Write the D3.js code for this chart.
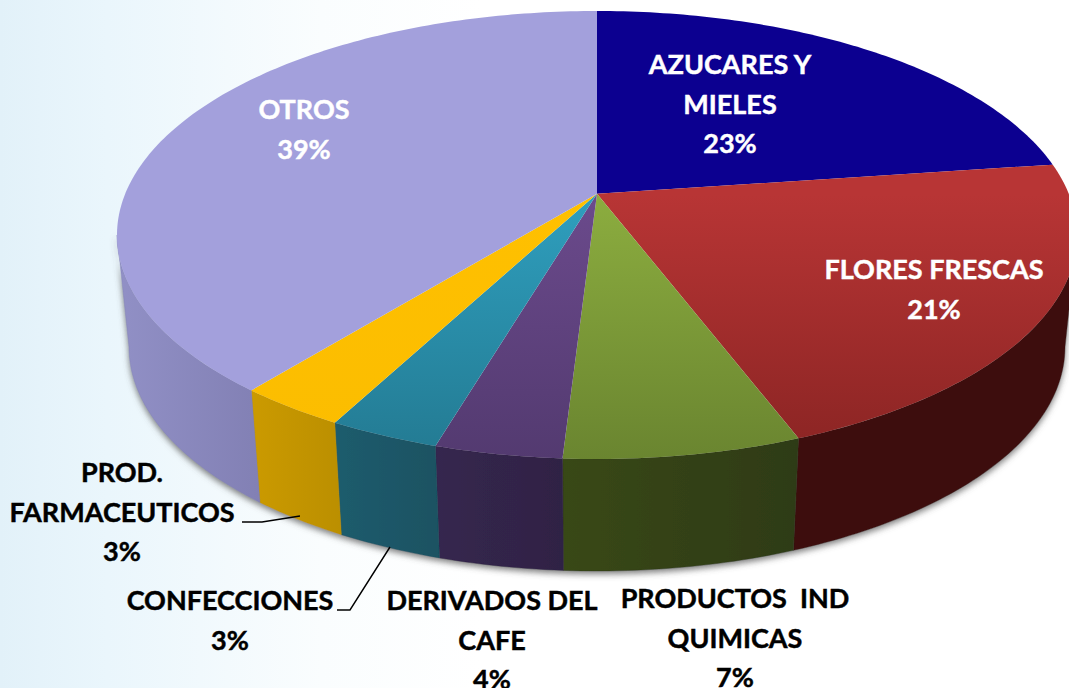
<!DOCTYPE html>
<html>
<head>
<meta charset="utf-8">
<script src="https://cdn.jsdelivr.net/npm/d3@7"></script>
<style>
  body { margin: 0; background: #fff; overflow: hidden; }
  svg { display: block; }
  text { font-family: Lato, "Open Sans", sans-serif; font-weight: 700; white-space: pre; text-anchor: middle; stroke-width: 0.45px; }
</style>
</head>
<body>
<script>
// data (the labels round these to whole percents)
const categories = ["AZUCARES Y MIELES", "FLORES FRESCAS", "PRODUCTOS  IND QUIMICAS", "DERIVADOS DEL CAFE", "CONFECCIONES", "PROD. FARMACEUTICOS", "OTROS"];
const shares = [22.8, 21.45, 6.7, 3.6, 3.15, 3.1, 39.2];

// colours: top face (upper, lower) and side wall (left, right)
const topColors = [["#0c0090", "#0c0090"], ["#b83535", "#8a2423"], ["#8cad3f", "#6a8530"], ["#6b4a8c", "#533a70"], ["#2f9fbe", "#237a92"], ["#ffc000", "#fbbd00"], ["#a3a0dc", "#a3a0dc"]];
const wallColors = [["#000", "#000"], ["#3c0f0e", "#3c100f"], ["#394817", "#2e3b13"], ["#36264f", "#2f2344"], ["#1f5c6d", "#1a5262"], ["#cb9a00", "#bb8f00"], ["#9190c6", "#8280b4"]];

// label lines, split by hand like the original
const labelLines = [["AZUCARES Y", "MIELES"], ["FLORES FRESCAS"], ["PRODUCTOS  IND", "QUIMICAS"], ["DERIVADOS DEL", "CAFE"], ["CONFECCIONES"], ["PROD.", "FARMACEUTICOS"], ["OTROS"]];
const labelAt = [[730, 74], [934, 279], [735, 608], [492, 610], [230, 610], [122, 482], [304, 119]];
const labelFill = ["#fff", "#fff", "#000", "#000", "#000", "#000", "#fff"];

var w = 1069, h = 688;
var lineGap = 39.5;

// tilted disc: top ellipse and a slightly narrower one for the bottom edge
var cx = 597;
var topRim = { rx: 480, ry: 224, cy: 235 };
var lowRim = { rx: 468, ry: 224, cy: 347 };
// perspective squeeze: the far half of the pie looks smaller than the near half
var squeeze = 0.83;

function toRim(a) { return 2 * Math.atan2(squeeze * Math.sin(a / 2), Math.cos(a / 2)); }
function fromRim(p) { return 2 * Math.atan2(Math.sin(p / 2), squeeze * Math.cos(p / 2)); }

function rimPoint(rim, a) {
  var p = toRim(a);
  return [cx + rim.rx * Math.sin(p), rim.cy - rim.ry * Math.cos(p)];
}

function arcPoints(rim, a0, a1) {
  var n = Math.max(2, Math.ceil((a1 - a0) * 60));
  return d3.range(n + 1).map(function(i) { return rimPoint(rim, a0 + (a1 - a0) * i / n); });
}

var line = d3.line();
var pie = d3.pie().sort(null).value(function(d) { return d; });
var slices = pie(shares);
// centre of the pie as seen in perspective, that's where all slices meet
var apex = [cx, topRim.cy - topRim.ry * Math.cos(toRim(Math.PI / 2))];

var svg = d3.select("body").append("svg").attr("width", w).attr("height", h);
var defs = svg.append("defs");

// pale blue background fading to white
var bg = defs.append("linearGradient").attr("id", "bg");
bg.append("stop").attr("offset", "0").attr("stop-color", "#e2f1f9");
bg.append("stop").attr("offset", "0.1").attr("stop-color", "#eaf6fc");
bg.append("stop").attr("offset", "0.3").attr("stop-color", "#fafdfe");
bg.append("stop").attr("offset", "0.45").attr("stop-color", "#ffffff");
svg.append("rect").attr("width", w).attr("height", h).attr("fill", "url(#bg)");

var shadow = defs.append("filter").attr("id", "shadow").attr("x", "-10%").attr("y", "-10%").attr("width", "120%").attr("height", "120%");
shadow.append("feDropShadow").attr("dx", 0).attr("dy", 3).attr("stdDeviation", 3).attr("flood-color", "#555").attr("flood-opacity", 0.75);

topColors.forEach(function(c, i) {
  var g = defs.append("linearGradient").attr("id", "top" + i).attr("gradientUnits", "userSpaceOnUse")
    .attr("x1", 0).attr("x2", 0).attr("y1", apex[1]).attr("y2", topRim.cy + topRim.ry);
  g.append("stop").attr("offset", "0").attr("stop-color", c[0]);
  g.append("stop").attr("offset", "1").attr("stop-color", c[1]);
  var wg = defs.append("linearGradient").attr("id", "wall" + i);
  wg.append("stop").attr("offset", "0").attr("stop-color", wallColors[i][0]);
  wg.append("stop").attr("offset", "1").attr("stop-color", wallColors[i][1]);
});

// side walls, only the part facing us (right-most to left-most point of the rim)
var walls = svg.append("g").attr("filter", "url(#shadow)");
slices.forEach(function(s, i) {
  var a0 = Math.max(s.startAngle, fromRim(Math.PI / 2));
  var a1 = Math.min(s.endAngle, fromRim(3 * Math.PI / 2));
  if (a1 <= a0) return;
  var pts = arcPoints(topRim, a0, a1).concat(arcPoints(lowRim, a0, a1).reverse());
  walls.append("path")
    .attr("d", line(pts) + "Z")
    .attr("fill", "url(#wall" + i + ")")
    .attr("stroke", wallColors[i][1]).attr("stroke-width", 0.4);
});

// top faces
svg.append("g").selectAll("path")
  .data(slices)
  .enter().append("path")
  .attr("d", function(s) { return line([apex].concat(arcPoints(topRim, s.startAngle, s.endAngle))) + "Z"; })
  .attr("fill", function(s, i) { return "url(#top" + i + ")"; });

// leader lines for the two small slices
var leaders = [[[242, 522], [262, 522], [300, 516]], [[337, 610], [350, 610], [390, 547]]];
svg.append("g").selectAll("path")
  .data(leaders)
  .enter().append("path")
  .attr("d", function(d) { return line(d); })
  .attr("fill", "none").attr("stroke", "#000").attr("stroke-width", 1.4);

// labels: name lines and then the rounded percent
var labels = svg.append("g").style("font-size", "27px");
categories.forEach(function(name, i) {
  var rows = labelLines[i].concat([Math.round(shares[i]) + "%"]);
  rows.forEach(function(t, r) {
    labels.append("text")
      .attr("x", labelAt[i][0])
      .attr("y", labelAt[i][1] + r * lineGap)
      .attr("fill", labelFill[i])
      .attr("stroke", labelFill[i])
      .text(t);
  });
});
</script>
</body>
</html>
